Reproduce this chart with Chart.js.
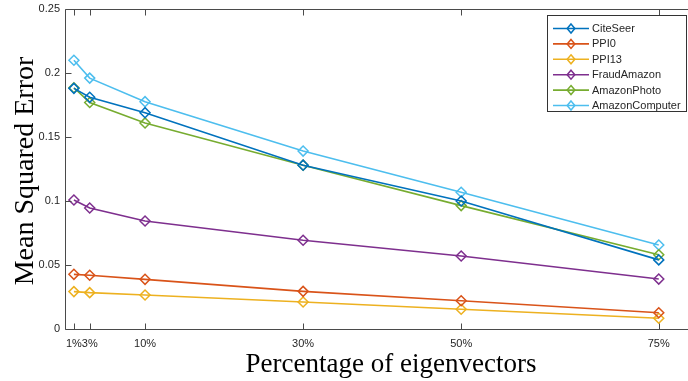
<!DOCTYPE html>
<html><head><meta charset="utf-8">
<script src="https://cdn.jsdelivr.net/npm/chart.js@4.4.1/dist/chart.umd.min.js"></script>
<style>html,body{margin:0;padding:0;background:#fff;overflow:hidden}#wrap{width:688px;height:381px;position:relative}</style>
</head><body><div id="wrap"><canvas id="c"></canvas></div>
<script>
const xValues = [1, 3, 10, 30, 50, 75];
const xTickLabels = ['1%', '3%', '10%', '30%', '50%', '75%'];
const yTickValues = [0, 0.05, 0.1, 0.15, 0.2, 0.25];
const yTickLabels = ['0', '0.05', '0.1', '0.15', '0.2', '0.25'];
const seriesNames = ['CiteSeer', 'PPI0', 'PPI13', 'FraudAmazon', 'AmazonPhoto', 'AmazonComputer'];
const seriesColors = ['#0072BD', '#D95319', '#EDB120', '#7E2F8E', '#77AC30', '#4DBEEE'];
const citeSeer = [0.188, 0.181, 0.169, 0.128, 0.100, 0.054];
const ppi0 = [0.0427, 0.042, 0.0388, 0.0294, 0.0221, 0.0127];
const ppi13 = [0.0292, 0.0284, 0.0266, 0.0211, 0.0154, 0.0084];
const fraudAmazon = [0.1008, 0.0945, 0.0844, 0.0693, 0.057, 0.039];
const amazonPhoto = [0.1885, 0.177, 0.161, 0.128, 0.0964, 0.058];
const amazonComputer = [0.210, 0.196, 0.1776, 0.139, 0.1068, 0.0656];
const seriesValues = [citeSeer, ppi0, ppi13, fraudAmazon, amazonPhoto, amazonComputer];
const xTitle = 'Percentage of eigenvectors';
const yTitle = 'Mean Squared Error';

const AXIS = '#4a4a4a';
const TXT = '#262626';
const SANS = '"Liberation Sans", Arial, Helvetica, sans-serif';
const SERIF = '"Liberation Serif", "Times New Roman", serif';

const datasets = seriesNames.map((n, i) => ({
  label: n,
  data: xValues.map((x, j) => ({x: x, y: seriesValues[i][j]})),
  borderColor: seriesColors[i],
  backgroundColor: 'rgba(0,0,0,0)',
  borderWidth: 1.6,
  pointStyle: 'rectRot',
  pointRadius: 5,
  pointBorderWidth: 1.5,
  pointBackgroundColor: 'rgba(0,0,0,0)',
  pointBorderColor: seriesColors[i],
  tension: 0,
  clip: false
}));

const decor = {
  id: 'decor',
  afterDraw(chart) {
    const ctx = chart.ctx;
    const a = chart.chartArea;
    const xs = chart.scales.x, ys = chart.scales.y;
    ctx.save();
    ctx.strokeStyle = AXIS;
    ctx.lineWidth = 1;
    const L = Math.round(a.left) - 0.5, B = Math.round(a.bottom) + 0.5, T = Math.round(a.top) + 0.5, R = Math.round(a.right) + 0.5;
    ctx.beginPath();
    ctx.moveTo(L, T); ctx.lineTo(R, T);
    ctx.moveTo(L, T); ctx.lineTo(L, B);
    ctx.moveTo(L, B); ctx.lineTo(R, B);
    xValues.forEach(v => {
      const px = Math.round(xs.getPixelForValue(v)) + 0.5;
      ctx.moveTo(px, B); ctx.lineTo(px, B - 6);
      ctx.moveTo(px, T); ctx.lineTo(px, T + 6);
    });
    yTickValues.forEach(v => {
      const py = Math.round(ys.getPixelForValue(v)) + 0.5;
      ctx.moveTo(L, py); ctx.lineTo(L + 6, py);
    });
    ctx.stroke();

    ctx.fillStyle = '#000';
    ctx.font = '27px ' + SERIF;
    ctx.textAlign = 'center';
    ctx.textBaseline = 'alphabetic';
    ctx.fillText(xTitle, 391, 371.5);
    ctx.save();
    ctx.translate(33, (a.top + a.bottom) / 2 + 2);
    ctx.rotate(-Math.PI / 2);
    ctx.font = '28px ' + SERIF;
    ctx.fillText(yTitle, 0, 0);
    ctx.restore();

    const bx = 547.5, by = 15.5, bw = 139, bh = 96;
    ctx.fillStyle = '#fff';
    ctx.fillRect(bx, by, bw, bh);
    ctx.strokeStyle = '#333';
    ctx.lineWidth = 1;
    ctx.strokeRect(bx, by, bw, bh);
    ctx.font = '11px ' + SANS;
    ctx.textAlign = 'left';
    ctx.textBaseline = 'middle';
    chart.data.datasets.forEach((ds, i) => {
      const yy = 28.5 + i * 15.4;
      ctx.strokeStyle = ds.borderColor;
      ctx.lineWidth = 1.6;
      ctx.beginPath();
      ctx.moveTo(553, yy); ctx.lineTo(589, yy);
      ctx.stroke();
      ctx.lineWidth = 1.5;
      ctx.beginPath();
      const r = 4.5, cx = 571;
      ctx.moveTo(cx, yy - r); ctx.lineTo(cx + r * 0.85, yy); ctx.lineTo(cx, yy + r); ctx.lineTo(cx - r * 0.85, yy); ctx.closePath();
      ctx.stroke();
      ctx.fillStyle = TXT;
      ctx.fillText(ds.label, 592, yy + 0.5);
    });
    ctx.restore();
  }
};

function zeroPad(s) { s.paddingTop = 0; s.paddingBottom = 0; s.paddingLeft = 0; s.paddingRight = 0; }

new Chart(document.getElementById('c'), {
  type: 'line',
  data: {datasets: datasets},
  plugins: [decor],
  options: {
    responsive: true,
    maintainAspectRatio: false,
    animation: false,
    events: [],
    layout: {autoPadding: false, padding: {top: 9, right: 0, left: 0, bottom: 0}},
    plugins: {legend: {display: false}, title: {display: false}, tooltip: {enabled: false}},
    scales: {
      x: {
        type: 'linear', min: 0, max: 78.7,
        grid: {display: false, drawTicks: false}, border: {display: false},
        afterBuildTicks: s => { s.ticks = xValues.map(v => ({value: v})); },
        afterFit: s => { s.height = 52; zeroPad(s); },
        ticks: {
          autoSkip: false, maxRotation: 0, padding: 8, color: TXT,
          font: {family: SANS, size: 11},
          callback: (v, i) => xTickLabels[i]
        }
      },
      y: {
        type: 'linear', min: 0, max: 0.25,
        grid: {display: false, drawTicks: false}, border: {display: false},
        afterBuildTicks: s => { s.ticks = yTickValues.map(v => ({value: v})); },
        afterFit: s => { s.width = 66; zeroPad(s); },
        ticks: {
          padding: 6, color: TXT,
          font: {family: SANS, size: 11},
          callback: (v, i) => yTickLabels[i]
        }
      }
    }
  }
});
</script>
</body></html>
